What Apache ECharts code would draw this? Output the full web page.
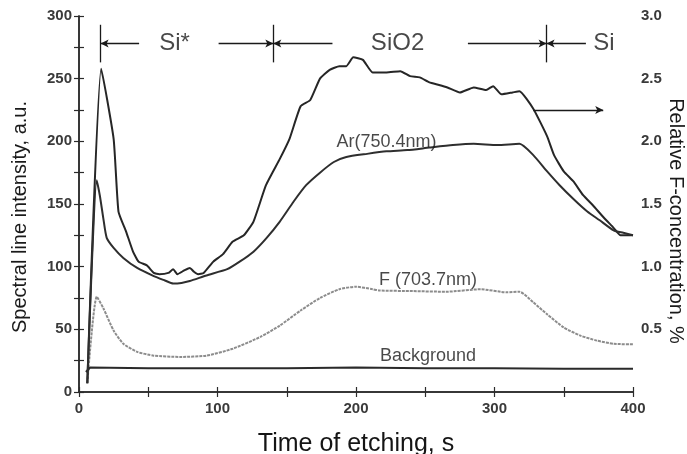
<!DOCTYPE html>
<html>
<head>
<meta charset="utf-8">
<script src="https://cdn.jsdelivr.net/npm/echarts@6/dist/echarts.min.js"></script>
<style>
html,body{margin:0;padding:0;background:#fff;}
#chart{width:687px;height:454px;}
</style>
</head>
<body>
<div id="chart"></div>
<script>
// ---- Data ----
// Relative F-concentration (right axis, %)
const fConcTime = [6,16,25,28.5,34,39,43,49,54,58,64.5,68,71,76,80,83,86,90,97,104,111,119,126,135,145,152,160,167,174,181,188,193,198,205,212,222,232,239,246,253,260,266,275,285,294,299,305,313,318,328,338,343,350,357,364,371,379,386,391,400];
const fConcValue = [0.07,2.58,2.02,1.44,1.28,1.12,1.04,1.01,0.95,0.94,0.95,0.98,0.94,0.97,0.99,0.96,0.94,0.95,1.04,1.10,1.20,1.25,1.36,1.65,1.86,2.02,2.28,2.33,2.50,2.57,2.60,2.60,2.67,2.65,2.55,2.55,2.56,2.52,2.51,2.47,2.45,2.43,2.39,2.43,2.41,2.44,2.375,2.39,2.40,2.26,2.04,1.89,1.76,1.68,1.57,1.49,1.39,1.31,1.25,1.25];
// Ar(750.4nm) line intensity (left axis)
const arTime = [6,12.8,15,17.5,20,25,32,42,54,62,68,74,80,92,107,116,126,135.5,145,155,164,174,184,193,208,222,237,253,270,285,302,318,328,338,347,357,367,376,386,393,400];
const arValue = [7,169,157,139,123,115,107,99,92.5,89,86.5,87,88.5,93,98,104,112,123,136,152,165,175,183.5,187.5,190,192,193,195,197,198,197,198,189,176,165,154,144,137,129,127,125];
// F (703.7nm) line intensity (left axis)
const fTime = [6,12.8,17.5,25,32,42,54,73,92,111,131,145,160,174,188,200,212,217,241,265,290,309,318,328,338,350,362,374,386,400];
const fValue = [7,76,67,49,38.5,32,29,28,29,34.5,44,53,65,75,82,84,82,81,80.5,80,82,79.5,80,71.5,62,51.5,45,41,38.5,38];
// Background
const bgTime = [5,8,50,100,150,200,250,300,350,400];
const bgValue = [16,19.5,19,19,19,19.5,19,19,18.5,18.5];

// Annotations (data coordinates)
const phaseBounds = [15.6, 140.3, 337.6];
const phaseBarRange = [263, 293];
const phaseArrowY = 278;
const phaseArrows = [[43.4, 15.6], [100.8, 140.3], [183, 140.3], [280.8, 337.6], [366, 337.6]];
const phaseNames = ['Si*', 'SiO2', 'Si'];
const phaseNameX = [69, 230, 379];
const axisArrow = [[328, 225], [378.5, 225]];
const curveNames = ['Ar(750.4nm)', 'F (703.7nm)', 'Background'];
const curveNameX = [222, 252, 252];
const curveNameY = [199.5, 89, 29];

const xTitle = 'Time of etching, s';
const yLeftTitle = 'Spectral line intensity, a.u.';
const yRightTitle = 'Relative F-concentration, %';

const zip = (a, b) => a.map((v, i) => [v, b[i]]);

const FONT = "'Liberation Sans', Arial, sans-serif";
const axisColor = '#2b2b2b';
const tickLabel = {fontFamily: FONT, fontSize: 15, fontWeight: 'bold', color: '#3a3a3a'};

const markLineData = [];
phaseBounds.forEach(x => {
  markLineData.push([{coord: [x, phaseBarRange[0]], symbol: 'none'}, {coord: [x, phaseBarRange[1]], symbol: 'none'}]);
});
phaseArrows.forEach(a => {
  markLineData.push([{coord: [a[0], phaseArrowY], symbol: 'none'}, {coord: [a[1], phaseArrowY], symbol: 'arrow', symbolSize: [6, 8]}]);
});
markLineData.push([{coord: axisArrow[0], symbol: 'none'}, {coord: axisArrow[1], symbol: 'arrow', symbolSize: [6, 8]}]);

const textPoints = [];
phaseNames.forEach((n, i) => textPoints.push({value: [phaseNameX[i], phaseArrowY], name: n, label: {fontSize: 24}}));
curveNames.forEach((n, i) => textPoints.push({value: [curveNameX[i], curveNameY[i]], name: n, label: {fontSize: 18}}));

const chart = echarts.init(document.getElementById('chart'), null, {renderer: 'canvas'});
chart.setOption({
  animation: false,
  backgroundColor: '#ffffff',
  grid: {left: 79, right: 54, top: 16, bottom: 62, containLabel: false, outerBoundsMode: 'none'},
  xAxis: [
    {
      type: 'value', min: 0, max: 400, interval: 50, position: 'bottom',
      axisLine: {show: true, lineStyle: {color: axisColor, width: 1.5}},
      axisTick: {show: true, inside: true, length: 5, lineStyle: {color: axisColor, width: 1.2}},
      axisLabel: Object.assign({margin: 9, formatter: v => (v % 100 === 0 ? String(v) : '')}, tickLabel),
      splitLine: {show: false},
      name: xTitle, nameLocation: 'middle', nameGap: 40,
      nameTextStyle: {fontFamily: FONT, fontSize: 25, color: '#151515'}
    },
    {
      type: 'value', min: 0, max: 400, interval: 50, position: 'top',
      axisLine: {show: true, lineStyle: {color: axisColor, width: 1.5}},
      axisTick: {show: true, inside: true, length: 5, lineStyle: {color: axisColor, width: 1.2}},
      axisLabel: {show: false}, splitLine: {show: false}
    }
  ],
  yAxis: [
    {
      type: 'value', min: 0, max: 300, interval: 25, position: 'left',
      axisLine: {show: true, lineStyle: {color: axisColor, width: 1.5}},
      axisTick: {show: true, inside: true, length: 5, lineStyle: {color: axisColor, width: 1.2}},
      axisLabel: Object.assign({margin: 7, formatter: v => (v % 50 === 0 ? String(v) : '')}, tickLabel),
      splitLine: {show: false}
    },
    {
      type: 'value', min: 0, max: 3, interval: 0.25, position: 'right',
      axisLine: {show: true, lineStyle: {color: axisColor, width: 1.5}},
      axisTick: {show: true, inside: true, length: 5, lineStyle: {color: axisColor, width: 1.2}},
      axisLabel: Object.assign({margin: 8, formatter: v => {
        const d = v * 2;
        return (v > 0 && Math.abs(d - Math.round(d)) < 1e-6) ? v.toFixed(1) : '';
      }}, tickLabel),
      splitLine: {show: false}
    }
  ],
  graphic: [
    {type: 'text', x: 20, y: 217, rotation: Math.PI / 2,
     style: {text: yLeftTitle, font: "20px 'Liberation Sans', Arial, sans-serif", fill: '#1a1a1a', align: 'center', verticalAlign: 'middle'}},
    {type: 'text', x: 676, y: 221, rotation: -Math.PI / 2,
     style: {text: yRightTitle, font: "20px 'Liberation Sans', Arial, sans-serif", fill: '#1a1a1a', align: 'center', verticalAlign: 'middle'}}
  ],
  series: [
    {
      name: 'Relative F-concentration', type: 'line', yAxisIndex: 1, data: zip(fConcTime, fConcValue),
      showSymbol: false, smooth: 0.15, lineStyle: {color: '#262626', width: 2}, silent: true, z: 3
    },
    {
      name: 'Ar(750.4nm)', type: 'line', data: zip(arTime, arValue),
      showSymbol: false, smooth: 0.2, lineStyle: {color: '#2e2e2e', width: 2}, silent: true, z: 3
    },
    {
      name: 'F (703.7nm)', type: 'line', data: zip(fTime, fValue),
      showSymbol: false, smooth: 0.2, lineStyle: {color: '#8c8c8c', width: 2, type: [3, 1]}, silent: true, z: 2
    },
    {
      name: 'Background', type: 'line', data: zip(bgTime, bgValue),
      showSymbol: false, smooth: false, lineStyle: {color: '#2a2a2a', width: 2}, silent: true, z: 2
    },
    {
      name: 'annotations', type: 'scatter', data: textPoints, symbolSize: 1,
      itemStyle: {color: 'rgba(0,0,0,0)'}, silent: true, z: 5,
      label: {show: true, position: 'inside', formatter: p => p.name, fontFamily: FONT, color: '#1a1a1a'},
      markLine: {
        silent: true, animation: false, precision: 4,
        label: {show: false},
        lineStyle: {color: '#1a1a1a', width: 1.3, type: 'solid'},
        emphasis: {disabled: true},
        data: markLineData
      }
    }
  ]
});
</script>
</body>
</html>
